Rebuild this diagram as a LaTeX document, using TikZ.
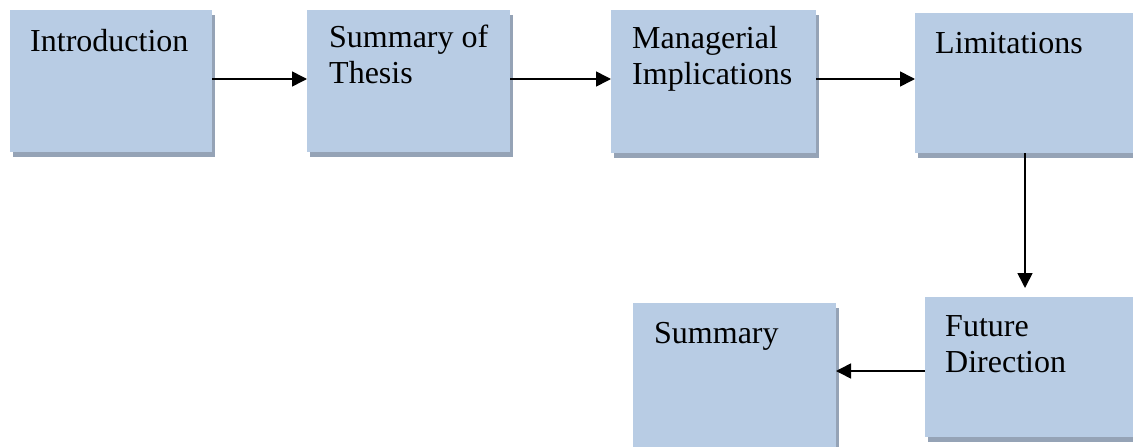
\documentclass[tikz,border=0pt]{standalone}
\usepackage{fontspec}
\setmainfont{Liberation Serif}
\usetikzlibrary{arrows.meta,shadows}
\definecolor{boxfill}{HTML}{B8CCE4}
\definecolor{boxshade}{HTML}{95A3B6}
\begin{document}
\begin{tikzpicture}[x=1pt,y=-1pt,
  stagebox/.style={rectangle, fill=boxfill, draw=none, inner sep=0pt, outer sep=0pt,
    anchor=north west,
    drop shadow={shadow xshift=3pt, shadow yshift=-5pt, fill=boxshade, opacity=1}},
  stagetext/.style={anchor=base west, inner sep=0pt, align=left,
    font=\fontsize{32}{36}\selectfont},
  flow/.style={-{Triangle[length=15pt,width=15pt]}, line width=1.6pt, black}]
\useasboundingbox (0,0) rectangle (1133,447);

% stage boxes
\node[stagebox, minimum width=202pt, minimum height=142pt] (intro) at (10,10) {};
\node[stagebox, minimum width=203pt, minimum height=142pt] (sot) at (307,10) {};
\node[stagebox, minimum width=205pt, minimum height=143pt] (man) at (611,10) {};
\node[stagebox, minimum width=220pt, minimum height=140pt] (lim) at (915,13) {};
\node[stagebox, minimum width=215pt, minimum height=140pt] (fut) at (925,297) {};
\node[stagebox, minimum width=203pt, minimum height=147pt] (sum) at (633,303) {};

% box labels (base anchor sits on the last line)
\node[stagetext] (introT) at (30,51) {Introduction};
\node[stagetext] (sotT) at (329,83) {Summary of\\Thesis};
\node[stagetext] (manT) at (632,84) {Managerial\\Implications};
\node[stagetext] (limT) at (935,53) {Limitations};
\node[stagetext] (futT) at (945,372) {Future\\Direction};
\node[stagetext] (sumT) at (654,343) {Summary};

% connectors
\draw[flow] ([yshift=2pt]intro.east) -- ([yshift=2pt]intro.east -| sot.west);
\draw[flow] ([yshift=2pt]sot.east) -- ([yshift=2pt]sot.east -| man.west);
\draw[flow] ([yshift=2.5pt]man.east) -- ([yshift=2.5pt]man.east -| lim.west);
\draw[flow] (lim.south) -- ([yshift=9pt]lim.south |- fut.north);
\draw[flow] ([yshift=-4pt]fut.west) -- ([yshift=-4pt]fut.west -| sum.east);
\end{tikzpicture}
\end{document}
